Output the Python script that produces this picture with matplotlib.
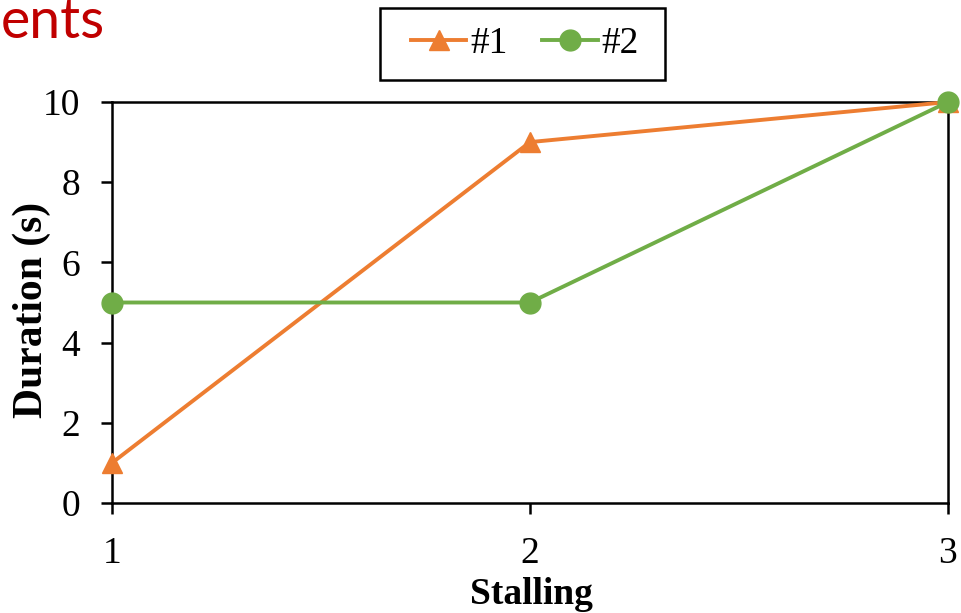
import matplotlib.pyplot as plt
from matplotlib.patches import Rectangle

stalling = [1, 2, 3]
series1 = [1, 9, 10]
series2 = [5, 5, 10]
names = ['#1', '#2']

plt.rcParams['font.family'] = ['Liberation Serif', 'DejaVu Serif']

W, H = 961, 613
fig = plt.figure(figsize=(W/100, H/100), dpi=100)
ax = fig.add_axes([112/W, 1-503/H, (948-112)/W, (503-102)/H])

ax.plot(stalling, series1, color='#ED7D31', lw=2.8, marker='^', ms=15,
        clip_on=False, zorder=3, label=names[0])
ax.plot(stalling, series2, color='#70AD47', lw=2.8, marker='o', ms=15,
        clip_on=False, zorder=4, label=names[1])

ax.set_xlim(1, 3)
ax.set_ylim(0, 10)
ax.set_xticks(stalling)
ax.set_yticks(range(0, 11, 2))
for s in ax.spines.values():
    s.set_linewidth(1.8)
ax.tick_params(axis='y', direction='out', length=8, width=1.8, pad=15, labelsize=27)
ax.tick_params(axis='x', direction='out', length=8, width=1.8, pad=16, labelsize=27)

# axis titles placed in figure pixels
fig.text(531/W, 1-595/H, 'Stalling', fontsize=27, fontweight='bold',
         ha='center', va='center')
fig.text(32/W, 1-310/H, 'Duration (s)', fontsize=30, fontweight='bold',
         rotation=90, ha='center', va='center')

leg = fig.legend(loc='center', bbox_to_anchor=(525/W, 1-44/H), ncol=2,
                 fontsize=27, frameon=False, handlelength=1.47,
                 handletextpad=0.1, columnspacing=0.93, borderpad=0)
fig.add_artist(Rectangle((380/W, 1-80/H), (665-380)/W, (80-8)/H,
                         transform=fig.transFigure, fill=False,
                         edgecolor='black', lw=1.8))

fig.text(1/W, 1-38/H, 'ents', color='#C00000', fontsize=40,
         family='Lato', va='baseline', ha='left')

fig.savefig('out.png', dpi=100)
